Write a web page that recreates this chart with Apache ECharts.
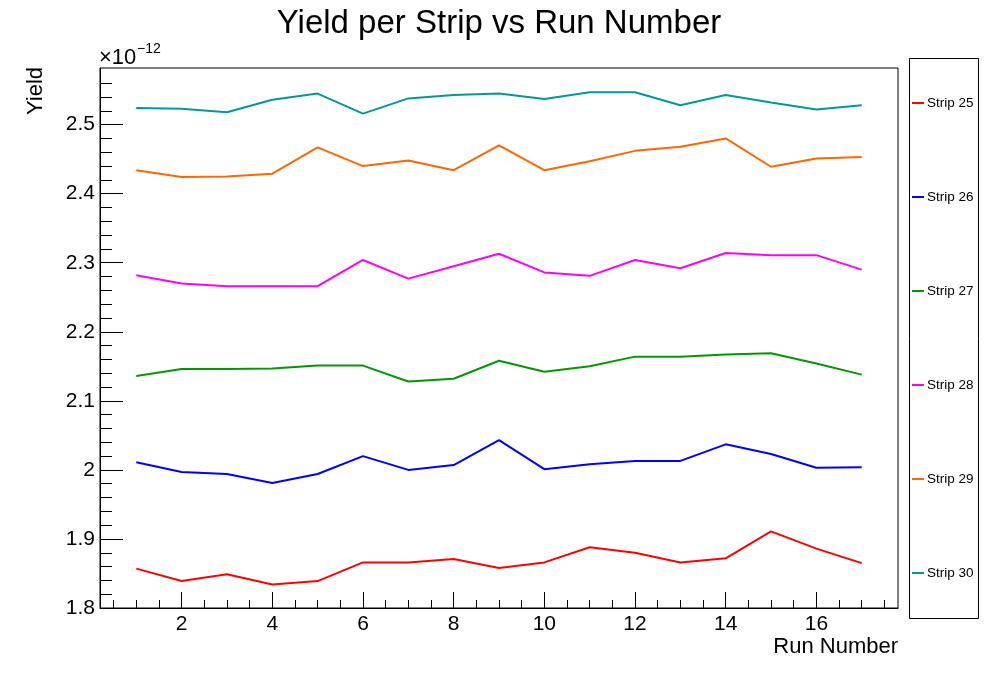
<!DOCTYPE html>
<html>
<head>
<meta charset="utf-8">
<script src="https://cdn.jsdelivr.net/npm/echarts@6/dist/echarts.min.js"></script>
<style>
html,body{margin:0;padding:0;background:#fff;}
#chart{width:998px;height:676px;}
</style>
</head>
<body>
<div id="chart"></div>
<script>
// Yield values in units of 1e-12
const runs = [1,2,3,4,5,6,7,8,9,10,11,12,13,14,15,16,17];
const strip25 = [1.857,1.839,1.849,1.834,1.839,1.866,1.866,1.871,1.858,1.866,1.888,1.880,1.866,1.872,1.911,1.886,1.865];
const strip26 = [2.011,1.997,1.994,1.981,1.994,2.020,2.000,2.007,2.043,2.001,2.008,2.013,2.013,2.037,2.023,2.003,2.004];
const strip27 = [2.136,2.146,2.146,2.147,2.151,2.151,2.128,2.132,2.158,2.142,2.150,2.164,2.164,2.167,2.169,2.154,2.138];
const strip28 = [2.282,2.270,2.266,2.266,2.266,2.304,2.277,2.295,2.313,2.286,2.281,2.304,2.292,2.314,2.311,2.311,2.290];
const strip29 = [2.434,2.424,2.425,2.429,2.467,2.440,2.448,2.434,2.470,2.434,2.447,2.462,2.468,2.480,2.439,2.451,2.453];
const strip30 = [2.524,2.523,2.518,2.536,2.545,2.516,2.538,2.543,2.545,2.537,2.547,2.547,2.528,2.543,2.532,2.522,2.528];

const seriesNames = ['Strip 25','Strip 26','Strip 27','Strip 28','Strip 29','Strip 30'];
const seriesData = [strip25, strip26, strip27, strip28, strip29, strip30];
const seriesColors = ['#ff0000','#0000ff','#009900','#ff00ff','#ff6600','#009999'];

const xMajorTicks = [2,4,6,8,10,12,14,16];
const xMinorTicks = [0.5,1,1.5,2.5,3,3.5,4.5,5,5.5,6.5,7,7.5,8.5,9,9.5,10.5,11,11.5,12.5,13,13.5,14.5,15,15.5,16.5,17,17.5];
const yMajorTicks = [1.8,1.9,2.0,2.1,2.2,2.3,2.4,2.5];
const yMinorTicks = [1.82,1.84,1.86,1.88,1.92,1.94,1.96,1.98,2.02,2.04,2.06,2.08,2.12,2.14,2.16,2.18,2.22,2.24,2.26,2.28,2.32,2.34,2.36,2.38,2.42,2.44,2.46,2.48,2.52,2.54,2.56];

const FONT = 'Liberation Sans, Arial, Helvetica, sans-serif';
const X_MIN = 0.2, X_MAX = 17.8, Y_MIN = 1.8, Y_MAX = 2.582;

const chart = echarts.init(document.getElementById('chart'), null, {renderer:'canvas'});

const option = {
  animation: false,
  backgroundColor: '#fff',
  title: {
    text: 'Yield per Strip vs Run Number',
    left: 'center',
    top: 2,
    textStyle: {fontFamily: FONT, fontSize: 33, fontWeight: 'normal', color: '#000'}
  },
  grid: {
    left: 100, top: 68, width: 798, height: 540,
    show: true, borderColor: '#000', borderWidth: 1, backgroundColor: 'transparent'
  },
  legend: {
    orient: 'vertical',
    left: 912,
    top: 96,
    padding: 0,
    itemGap: 80,
    itemWidth: 12,
    itemHeight: 2,
    icon: 'rect',
    data: seriesNames,
    textStyle: {fontFamily: FONT, fontSize: 13.5, color: '#000', lineHeight: 14, padding: [0,0,0,-2]}
  },
  xAxis: [
    {
      type: 'value', min: X_MIN, max: X_MAX, position: 'bottom',
      axisLine: {show: true, onZero: false, lineStyle: {color: '#000', width: 1}},
      axisTick: {show: true, inside: true, length: 16, customValues: xMajorTicks, lineStyle: {color: '#000', width: 1}},
      axisLabel: {show: true, customValues: xMajorTicks, margin: 6, fontFamily: FONT, fontSize: 21, color: '#000'},
      splitLine: {show: false}
    },
    {
      type: 'value', min: X_MIN, max: X_MAX, position: 'bottom',
      axisLine: {show: false, onZero: false},
      axisTick: {show: true, inside: true, length: 8, customValues: xMinorTicks, lineStyle: {color: '#000', width: 1}},
      axisLabel: {show: false},
      splitLine: {show: false}
    }
  ],
  yAxis: [
    {
      type: 'value', min: Y_MIN, max: Y_MAX, position: 'left',
      axisLine: {show: true, onZero: false, lineStyle: {color: '#000', width: 1}},
      axisTick: {show: true, inside: true, length: 23, customValues: yMajorTicks, lineStyle: {color: '#000', width: 1}},
      axisLabel: {show: true, customValues: yMajorTicks, margin: 5, fontFamily: FONT, fontSize: 21, color: '#000',
        formatter: v => String(Math.round(v * 10) / 10)},
      splitLine: {show: false}
    },
    {
      type: 'value', min: Y_MIN, max: Y_MAX, position: 'left',
      axisLine: {show: false, onZero: false},
      axisTick: {show: true, inside: true, length: 12, customValues: yMinorTicks, lineStyle: {color: '#000', width: 1}},
      axisLabel: {show: false},
      splitLine: {show: false}
    }
  ],
  graphic: [
    {type: 'text', left: 99, top: 47, style: {text: '×10', fontFamily: FONT, fontSize: 22, fill: '#000'}},
    {type: 'text', left: 137, top: 42, style: {text: '−12', fontFamily: FONT, fontSize: 14, fill: '#000'}},
    {type: 'text', x: 36, y: 91, rotation: Math.PI / 2,
      style: {text: 'Yield', fontFamily: FONT, fontSize: 22, fill: '#000', align: 'center', verticalAlign: 'middle'}},
    {type: 'text', x: 898, y: 647,
      style: {text: 'Run Number', fontFamily: FONT, fontSize: 22, fill: '#000', align: 'right', verticalAlign: 'middle'}},
    {type: 'rect', shape: {x: 909.5, y: 58.5, width: 69, height: 560},
      style: {fill: 'none', stroke: '#000', lineWidth: 1}, z: 100}
  ],
  series: seriesNames.map((name, i) => ({
    name: name,
    type: 'line',
    xAxisIndex: 0,
    yAxisIndex: 0,
    data: runs.map((r, j) => [r, seriesData[i][j]]),
    symbol: 'none',
    showSymbol: false,
    color: seriesColors[i],
    lineStyle: {color: seriesColors[i], width: 2},
    itemStyle: {color: seriesColors[i]}
  }))
};

chart.setOption(option);
</script>
</body>
</html>
